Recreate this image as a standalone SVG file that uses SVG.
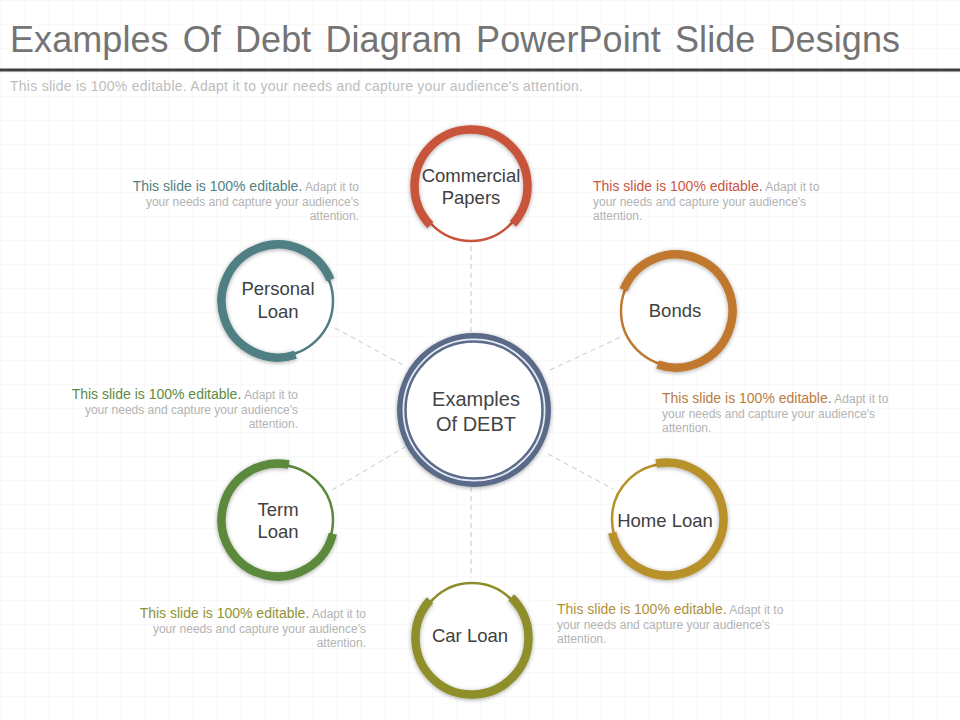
<svg xmlns="http://www.w3.org/2000/svg" width="960" height="720" viewBox="0 0 960 720">
  <defs>
    <pattern id="grid" width="24" height="24" patternUnits="userSpaceOnUse">
      <path d="M24 0 H0 V24" fill="none" stroke="#f3f3f3" stroke-width="1"/>
    </pattern>
    <filter id="shadow" x="-30%" y="-30%" width="160%" height="160%">
      <feDropShadow dx="0" dy="1" stdDeviation="2" flood-color="#000" flood-opacity="0.35"/>
    </filter>
  </defs>
  <style>
    .title { font-family: "Liberation Sans", Arial, sans-serif; font-size: 36px; fill: #747474; word-spacing: 4px; }
    .sub { font-family: "Liberation Sans", Arial, sans-serif; font-size: 14px; fill: #bdbdbd; }
    .desc { font-family: "Liberation Sans", Arial, sans-serif; font-size: 12px; fill: #b3b3b3; }
    .hl { font-size: 14px; }
    .label { font-family: "Liberation Sans", Arial, sans-serif; font-size: 18.5px; fill: #404040; text-anchor: middle; }
    .clabel { font-family: "Liberation Sans", Arial, sans-serif; font-size: 20px; fill: #454545; text-anchor: middle; }
    .thin { fill: #ffffff; stroke-width: 2.5; }
    .thick { fill: none; stroke-width: 8.5; filter: url(#shadow); }
    .conn { stroke: #c8c8c8; stroke-width: 1; stroke-dasharray: 5 4; fill: none; }
  </style>

  <rect x="0" y="0" width="960" height="720" fill="#ffffff"/>
  <rect x="0" y="0" width="960" height="720" fill="url(#grid)"/>

  <g id="header">
    <text class="title" x="10" y="52" textLength="890" lengthAdjust="spacing">Examples Of Debt Diagram PowerPoint Slide Designs</text>
    <rect x="0" y="68.5" width="960" height="3" fill="#404040"/>
    <text class="sub" x="10" y="91" textLength="573" lengthAdjust="spacing">This slide is 100% editable.  Adapt it to your needs and capture your audience's attention.</text>
  </g>

  <g id="connectors">
    <line class="conn" x1="471" y1="246" x2="471" y2="334"/>
    <line class="conn" x1="471" y1="487" x2="471" y2="578"/>
    <line class="conn" x1="335" y1="328" x2="405" y2="366"/>
    <line class="conn" x1="550" y1="370" x2="621" y2="337"/>
    <line class="conn" x1="332" y1="490" x2="405" y2="447"/>
    <line class="conn" x1="548" y1="454" x2="613" y2="489"/>
  </g>

  <g id="center">
    <circle cx="474" cy="410" r="74" fill="#ffffff" stroke="#5b6b89" stroke-width="6" filter="url(#shadow)"/>
    <circle cx="474" cy="410" r="70.5" fill="none" stroke="#e3eaf4" stroke-width="2"/>
    <circle cx="474" cy="410" r="68.5" fill="#ffffff" stroke="#5b6b89" stroke-width="2.5"/>
    <text class="clabel" x="476" y="406">Examples</text>
    <text class="clabel" x="476" y="431">Of DEBT</text>
  </g>

  <g id="commercial-papers">
    <circle class="thin" cx="471" cy="186" r="55" stroke="#c8553a"/>
    <path class="thick" stroke="#c8553a" d="M430.36,225.25 A56.5,56.5 0 1 1 512.99,223.81"/>
    <text class="label" x="471" y="182">Commercial</text>
    <text class="label" x="471" y="204">Papers</text>
  </g>

  <g id="bonds">
    <circle class="thin" cx="676" cy="311" r="55" stroke="#c0782f"/>
    <path class="thick" stroke="#c0782f" d="M623.61,289.83 A56.5,56.5 0 1 1 657.60,364.42"/>
    <text class="label" x="675" y="317">Bonds</text>
  </g>

  <g id="personal-loan">
    <circle class="thin" cx="278" cy="301" r="55" stroke="#4f7f82"/>
    <path class="thick" stroke="#4f7f82" d="M295.46,354.74 A56.5,56.5 0 1 1 330.39,279.83"/>
    <text class="label" x="278" y="295">Personal</text>
    <text class="label" x="278" y="318">Loan</text>
  </g>

  <g id="term-loan">
    <circle class="thin" cx="278" cy="520" r="55" stroke="#5b8a3c"/>
    <path class="thick" stroke="#5b8a3c" d="M332.82,533.67 A56.5,56.5 0 1 1 288.78,464.54"/>
    <text class="label" x="278" y="516">Term</text>
    <text class="label" x="278" y="538">Loan</text>
  </g>

  <g id="home-loan">
    <circle class="thin" cx="667" cy="519" r="55" stroke="#b8912c"/>
    <path class="thick" stroke="#b8912c" d="M656.22,463.54 A56.5,56.5 0 1 1 612.18,532.67"/>
    <text class="label" x="665" y="527">Home Loan</text>
  </g>

  <g id="car-loan">
    <circle class="thin" cx="472" cy="638" r="55" stroke="#8e8e2c"/>
    <path class="thick" stroke="#8e8e2c" d="M511.25,597.36 A56.5,56.5 0 1 1 430.01,600.19"/>
    <text class="label" x="470" y="642">Car Loan</text>
  </g>

  <g id="desc-personal" text-anchor="end">
    <text class="desc" x="359" y="191"><tspan class="hl" fill="#4f8284">This slide is 100% editable.</tspan> Adapt it to</text>
    <text class="desc" x="359" y="205.5">your needs and capture your audience's</text>
    <text class="desc" x="359" y="220">attention.</text>
  </g>

  <g id="desc-commercial">
    <text class="desc" x="593" y="191"><tspan class="hl" fill="#c9553f">This slide is 100% editable.</tspan> Adapt it to</text>
    <text class="desc" x="593" y="205.5">your needs and capture your audience's</text>
    <text class="desc" x="593" y="220">attention.</text>
  </g>

  <g id="desc-bonds">
    <text class="desc" x="662" y="403"><tspan class="hl" fill="#b87d3e">This slide is 100% editable.</tspan> Adapt it to</text>
    <text class="desc" x="662" y="417.5">your needs and capture your audience's</text>
    <text class="desc" x="662" y="432">attention.</text>
  </g>

  <g id="desc-term" text-anchor="end">
    <text class="desc" x="298" y="399"><tspan class="hl" fill="#5f8a3f">This slide is 100% editable.</tspan> Adapt it to</text>
    <text class="desc" x="298" y="413.5">your needs and capture your audience's</text>
    <text class="desc" x="298" y="428">attention.</text>
  </g>

  <g id="desc-car" text-anchor="end">
    <text class="desc" x="366" y="618"><tspan class="hl" fill="#8f9234">This slide is 100% editable.</tspan> Adapt it to</text>
    <text class="desc" x="366" y="632.5">your needs and capture your audience's</text>
    <text class="desc" x="366" y="647">attention.</text>
  </g>

  <g id="desc-home">
    <text class="desc" x="557" y="614"><tspan class="hl" fill="#b08f3c">This slide is 100% editable.</tspan> Adapt it to</text>
    <text class="desc" x="557" y="628.5">your needs and capture your audience's</text>
    <text class="desc" x="557" y="643">attention.</text>
  </g>
</svg>
